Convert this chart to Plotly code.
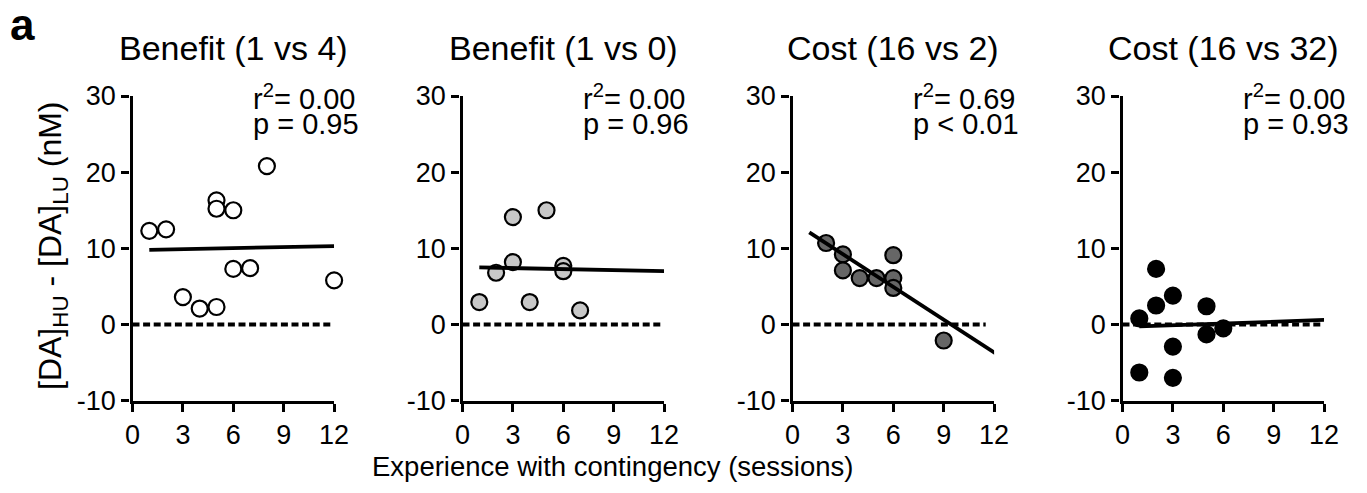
import plotly.graph_objects as go

W, H = 1367, 493
OX, OY = 8, 8  # page body margin compensation

titles = ["Benefit (1 vs 4)", "Benefit (1 vs 0)", "Cost (16 vs 2)", "Cost (16 vs 32)"]
r2_text = ["0.00", "0.00", "0.69", "0.00"]
p_text = ["= 0.95", "= 0.96", "< 0.01", "= 0.93"]

p1_x = [1, 2, 3, 4, 5, 5, 5, 6, 6, 7, 8, 12]
p1_y = [12.3, 12.5, 3.6, 2.1, 16.3, 15.2, 2.3, 15.0, 7.3, 7.4, 20.8, 5.8]
p2_x = [1, 2, 3, 3, 4, 5, 6, 6, 7]
p2_y = [2.95, 6.8, 14.1, 8.2, 2.95, 15.0, 7.7, 7.0, 1.85]
p3_x = [2, 3, 3, 4, 5, 6, 6, 6, 9]
p3_y = [10.7, 9.2, 7.1, 6.1, 6.1, 9.1, 6.1, 4.8, -2.1]
p4_x = [1, 1, 2, 2, 3, 3, 3, 5, 5, 6]
p4_y = [0.8, -6.3, 7.3, 2.5, 3.8, -2.9, -7.0, 2.4, -1.3, -0.5]

fit_x = [[1, 12], [1, 12], [1, 12.2], [1, 12]]
fit_y = [[9.8, 10.3], [7.5, 7.0], [12.1, -3.96], [-0.25, 0.6]]
zero_x = [[0, 11.9], [0, 11.9], [0, 11.5], [0, 11.9]]
zero_y = [0, 0]

xs = [p1_x, p2_x, p3_x, p4_x]
ys = [p1_y, p2_y, p3_y, p4_y]
fills = ["#ffffff", "#c8c8c8", "#666666", "#000000"]

x_ticks = [0, 3, 6, 9, 12]
x_tick_labels = ["0", "3", "6", "9", "12"]
y_ticks = [-10, 0, 10, 20, 30]
y_tick_labels = ["-10", "0", "10", "20", "30"]

FONT = "Liberation Sans, Arial, Helvetica, sans-serif"


def px(x):
    return (x - OX) / W


def py(y):
    return 1 - (y - OY) / H


fig = go.Figure()

lefts = [132.5, 462.5, 792.5, 1122.5]
pw = 201.6
ytop, ybot = 96.0, 400.7

for i in range(4):
    ax = "" if i == 0 else str(i + 1)
    xa = "x" + ax
    ya = "y" + ax
    fig.add_trace(go.Scatter(
        x=xs[i], y=ys[i], mode="markers", xaxis=xa, yaxis=ya,
        marker=dict(size=16, color=fills[i], line=dict(color="black", width=2.2)),
        cliponaxis=False, showlegend=False))
    fig.add_trace(go.Scatter(
        x=zero_x[i], y=zero_y, mode="lines", xaxis=xa, yaxis=ya,
        line=dict(color="black", width=3.8, dash="7px,3.6px"),
        cliponaxis=False, showlegend=False))
    fig.add_trace(go.Scatter(
        x=fit_x[i], y=fit_y[i], mode="lines", xaxis=xa, yaxis=ya,
        line=dict(color="black", width=3.8),
        cliponaxis=False, showlegend=False))

    dom_x = [px(lefts[i]), px(lefts[i] + pw)]
    dom_y = [py(ybot), py(ytop)]
    axis_common = dict(showline=True, linecolor="black", linewidth=3.4,
                       ticks="outside", ticklen=8, tickwidth=3.4, tickcolor="black",
                       showgrid=False, zeroline=False, automargin=False,
                       tickfont=dict(family=FONT, size=27, color="black"))
    fig.layout["xaxis" + ax] = dict(domain=dom_x, range=[0, 12], tickvals=x_ticks,
                                    ticktext=x_tick_labels, anchor=ya, **axis_common)
    fig.layout["yaxis" + ax] = dict(domain=dom_y, range=[-10, 30], tickvals=y_ticks,
                                    ticktext=y_tick_labels, anchor=xa, **axis_common)

    fig.add_annotation(text=titles[i], x=px(lefts[i] + pw / 2), y=py(48),
                       xref="paper", yref="paper",
                       xanchor="center", yanchor="middle", showarrow=False,
                       font=dict(family=FONT, size=34, color="black"))
    tx = px(lefts[i] + 118)
    fig.add_annotation(text="r<sup>2</sup>= " + r2_text[i], x=tx, y=py(97),
                       xref="paper", yref="paper", xanchor="left", yanchor="middle",
                       showarrow=False,
                       font=dict(family=FONT, size=29, color="black"))
    fig.add_annotation(text="p " + p_text[i], x=tx, y=py(124),
                       xref="paper", yref="paper", xanchor="left", yanchor="middle",
                       showarrow=False,
                       font=dict(family=FONT, size=29, color="black"))

fig.add_annotation(text="[DA]<sub>HU</sub> - [DA]<sub>LU</sub> (nM)", x=px(52), y=py(246),
                   xref="paper", yref="paper", xanchor="center", yanchor="middle",
                   textangle=-90, showarrow=False,
                   font=dict(family=FONT, size=32, color="black"))
fig.add_annotation(text="Experience with contingency (sessions)", x=px(612), y=py(466),
                   xref="paper", yref="paper", xanchor="center", yanchor="middle",
                   showarrow=False, font=dict(family=FONT, size=27.5, color="black"))
fig.add_annotation(text="<b>a</b>", x=px(22), y=py(25),
                   xref="paper", yref="paper", xanchor="center", yanchor="middle",
                   showarrow=False,
                   font=dict(family=FONT, size=44, color="black"))

fig.update_layout(width=W, height=H,
                  margin=dict(l=0, r=0, t=0, b=0, pad=0, autoexpand=False),
                  plot_bgcolor="white", paper_bgcolor="white")

fig.write_html("out.html")
